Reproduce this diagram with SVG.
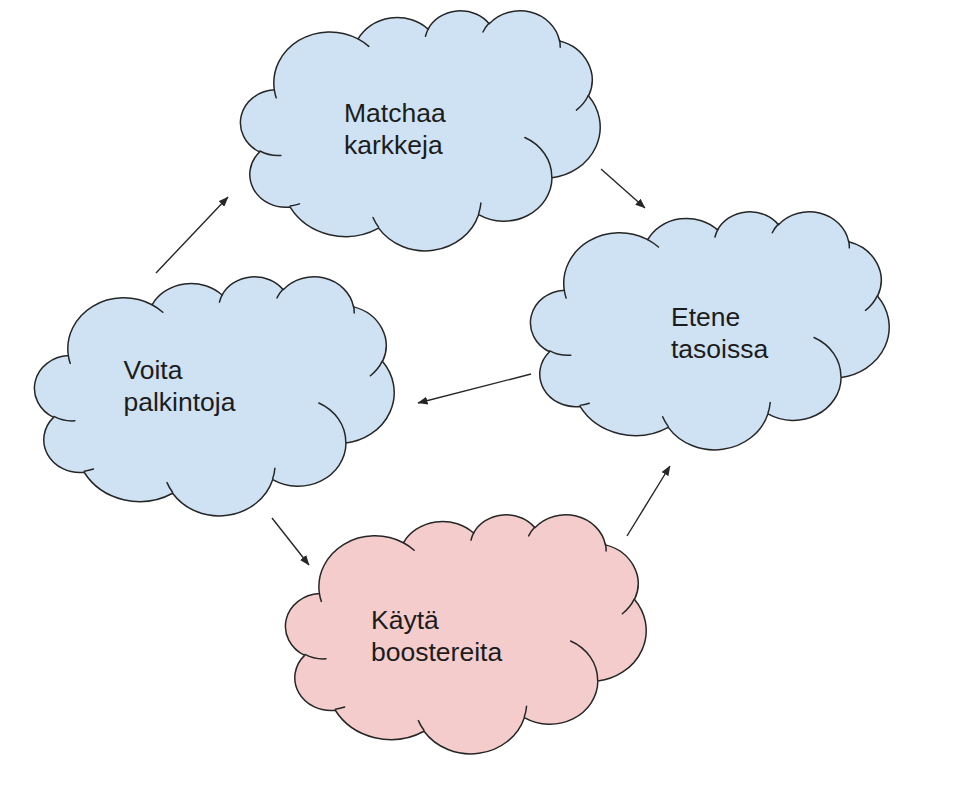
<svg xmlns="http://www.w3.org/2000/svg" xmlns:xlink="http://www.w3.org/1999/xlink" width="964" height="790" viewBox="0 0 964 790">
  <style>
    .body { stroke: #262626; stroke-width: 1.5; stroke-linejoin: round; }
    .spur { fill: none; stroke: #262626; stroke-width: 1.5; stroke-linecap: round; }
    .blue { fill: #cfe2f3; }
    .pink { fill: #f4cccc; }
    .label { font-family: "Liberation Sans", Arial, sans-serif; font-size: 26.5px; fill: #1c1c1c; }
    .conn { stroke: #262626; stroke-width: 1.4; fill: none; marker-end: url(#arrow); }
  </style>
  <defs>
    <marker id="arrow" viewBox="0 0 10 8" refX="9.5" refY="4" markerWidth="10" markerHeight="8" markerUnits="userSpaceOnUse" orient="auto">
      <path d="M0,0 L10,4 L0,8 Z" fill="#262626"/>
    </marker>
    <path id="cloudBody" class="body" vector-effect="non-scaling-stroke" d="M9.03,33.26 A15.63,21.27 0 0 1 32.42,12.04 A12.34,16.82 0 0 1 51.98,7.95 A10.10,13.76 0 0 1 69.06,5.75 A11.24,15.27 0 0 1 88.70,12.91 A12.34,16.84 0 0 1 96.81,35.79 A15.68,21.34 0 0 1 86.59,69.92 A13.39,18.21 0 0 1 66.11,85.22 A15.63,21.33 0 0 1 38.16,90.90 A17.87,24.41 0 0 1 13.45,82.12 A10.09,13.70 0 0 1 4.90,59.15 A10.06,13.76 0 0 1 9.03,33.26 Z"/>
    <path id="cloudSpurs" class="spur" vector-effect="non-scaling-stroke" d="M10.86,60.59 A10.06,13.76 0 0 1 5.00,58.75 M16.04,80.78 A10.09,13.70 0 0 1 13.47,81.67 M38.14,90.49 A15.63,21.33 0 0 1 36.60,86.45 M66.73,80.44 A15.63,21.33 0 0 1 66.11,84.86 M79.00,53.13 A13.39,18.21 0 0 1 86.53,69.65 M96.75,35.54 A12.34,16.84 0 0 1 93.41,41.73 M88.71,12.56 A11.24,15.27 0 0 1 88.89,15.49 M67.31,9.15 A11.24,15.27 0 0 1 69.03,5.41 M51.25,10.93 A10.10,13.76 0 0 1 52.08,7.71 M32.41,12.02 A15.63,21.27 0 0 1 35.42,15.15 M9.55,36.55 A15.63,21.27 0 0 1 9.03,33.27"/>
  </defs>

  <g id="connectors">
    <line class="conn" x1="156" y1="273" x2="228" y2="197"/>
    <line class="conn" x1="601" y1="169" x2="645" y2="208"/>
    <line class="conn" x1="531" y1="374" x2="418" y2="403"/>
    <line class="conn" x1="272" y1="518" x2="309" y2="565"/>
    <line class="conn" x1="627" y1="536" x2="670" y2="466"/>
  </g>

  <g id="node-matchaa">
    <g class="blue" transform="translate(242,10) scale(3.58,2.40)">
      <use xlink:href="#cloudBody"/>
      <use xlink:href="#cloudSpurs"/>
    </g>
    <text class="label" x="344" y="121.5">Matchaa</text>
    <text class="label" x="344" y="153.5">karkkeja</text>
  </g>

  <g id="node-etene">
    <g class="blue" transform="translate(532,211) scale(3.57,2.38)">
      <use xlink:href="#cloudBody"/>
      <use xlink:href="#cloudSpurs"/>
    </g>
    <text class="label" x="671" y="325.5">Etene</text>
    <text class="label" x="671" y="358">tasoissa</text>
  </g>

  <g id="node-voita">
    <g class="blue" transform="translate(36,276) scale(3.58,2.39)">
      <use xlink:href="#cloudBody"/>
      <use xlink:href="#cloudSpurs"/>
    </g>
    <text class="label" x="123.5" y="379">Voita</text>
    <text class="label" x="123.5" y="410.5">palkintoja</text>
  </g>

  <g id="node-kayta">
    <g class="pink" transform="translate(287,514) scale(3.59,2.39)">
      <use xlink:href="#cloudBody"/>
      <use xlink:href="#cloudSpurs"/>
    </g>
    <text class="label" x="371" y="629">Käytä</text>
    <text class="label" x="371" y="661">boostereita</text>
  </g>
</svg>
